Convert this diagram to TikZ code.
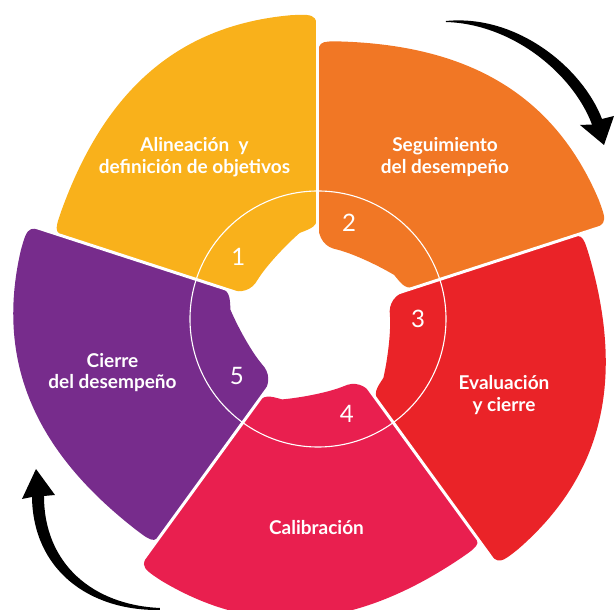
\documentclass[tikz,border=0pt]{standalone}
\usepackage{fontspec}
\setmainfont{Lato}
\definecolor{petalyellow}{HTML}{F9B11B}
\definecolor{petalorange}{HTML}{F17725}
\definecolor{petalred}{HTML}{EA2328}
\definecolor{petalpink}{HTML}{E91F4F}
\definecolor{petalpurple}{HTML}{772C8C}

% one petal of the ring, cw edge along #1, filled with #2
\newcommand{\petal}[2]{%
  \fill[#2, rotate=#1] (0:110) -- (0:272) .. controls (0:305) .. (5:305)
    .. controls (293.4,146.1) and (221.6,215.4) .. (108.8,256.4)
    .. controls (72:278) .. (72:256)
    -- (72:96) .. controls (72:80) and (66:72) .. (57:72)
    .. controls (45:74) and (25:80) .. (12:88)
    .. controls (4:91) and (0:92) .. (0:106) -- cycle;}

\tikzset{
  seglabel/.style={text=white, align=center, font=\bfseries\fontsize{19}{21.6}\selectfont},
  numlabel/.style={text=white, font=\fontsize{24}{24}\selectfont}
}

\begin{document}
\begin{tikzpicture}[x=1pt, y=1pt]
    \useasboundingbox (-318,-291) rectangle (296,319);
    \petal{90}{petalyellow}
    \petal{18}{petalorange}
    \petal{-54}{petalred}
    \petal{-126}{petalpink}
    \petal{162}{petalpurple}

    % gaps between the petals
    \foreach \a in {18,90,162,234,306}
        \draw[white, line width=3pt] (\a:50) -- (\a:330);
    \draw[white, line width=1.1pt] (0,0) circle[radius=128];

    \node[seglabel] (alin) at (-123.5,162) {Alineación~~y\\definición de objetivos};
    \node[seglabel] (segu) at (127,162) {Seguimiento\\del desempeño};
    \node[seglabel] (eval) at (186,-76) {Evaluación\\y cierre};
    \node[seglabel] (cali) at (-1.5,-208.5) {Calibración};
    \node[seglabel] (cier) at (-205.5,-53.5) {Cierre\\del desempeño};

    \node[numlabel] (n1) at (142:101) {1};
    \node[numlabel] (n2) at (72:101) {2};
    \node[numlabel] (n3) at (0:100) {3};
    \node[numlabel] (n4) at (-73:99) {4};
    \node[numlabel] (n5) at (215:99) {5};

    % arrows round the ring
    \fill (128,298) .. controls (200,305) and (265,250) .. (284,200)
        -- (296,203) -- (286,174) -- (262,194) -- (274,194.5)
        .. controls (255,245) and (195,295) .. (128,297) -- cycle;
    \fill (-158,-291) .. controls (-230,-292) and (-285,-250) .. (-286,-178)
        -- (-296,-180) -- (-282,-150) -- (-263,-176) -- (-274,-177)
        .. controls (-274,-245) and (-225,-286) .. (-158,-289) -- cycle;
\end{tikzpicture}
\end{document}
